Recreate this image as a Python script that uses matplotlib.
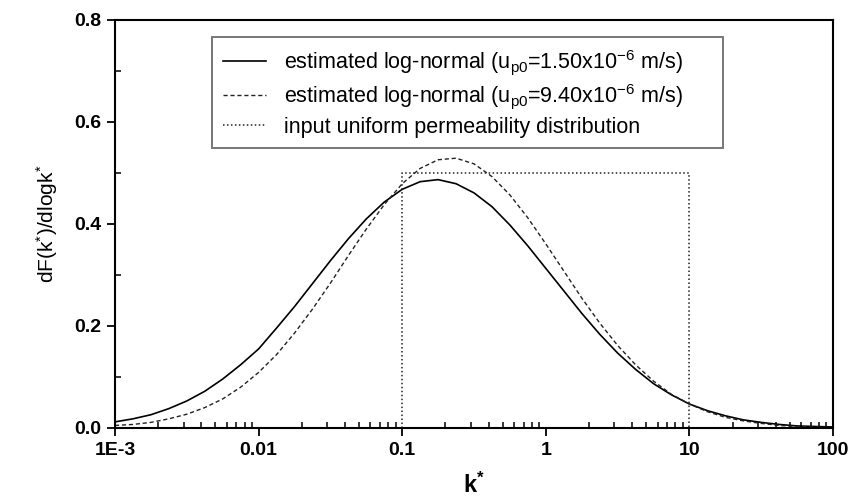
import matplotlib as mpl
mpl.use("Agg")
import matplotlib.pyplot as plt
from matplotlib.ticker import FixedLocator, LogLocator, MultipleLocator, NullFormatter

mpl.rcParams["font.family"] = ["Liberation Sans", "DejaVu Sans"]
mpl.rcParams["mathtext.default"] = "regular"

# curves (k*, dF/dlogk*), eight points per decade
k_vals = [1e-3, 1.334e-3, 1.778e-3, 2.371e-3, 3.162e-3, 4.217e-3, 5.623e-3, 7.499e-3,
          1e-2, 1.334e-2, 1.778e-2, 2.371e-2, 3.162e-2, 4.217e-2, 5.623e-2, 7.499e-2,
          0.1, 0.1334, 0.1778, 0.2371, 0.3162, 0.4217, 0.5623, 0.7499,
          1.0, 1.334, 1.778, 2.371, 3.162, 4.217, 5.623, 7.499,
          10.0, 13.34, 17.78, 23.71, 31.62, 42.17, 56.23, 74.99, 100.0]
est_150 = [0.012, 0.018, 0.026, 0.038, 0.053, 0.072, 0.096, 0.124,
           0.155, 0.196, 0.238, 0.283, 0.328, 0.371, 0.410, 0.443,
           0.468, 0.483, 0.487, 0.479, 0.461, 0.434, 0.398, 0.357,
           0.313, 0.269, 0.225, 0.184, 0.147, 0.115, 0.087, 0.065,
           0.047, 0.034, 0.024, 0.016, 0.011, 0.007, 0.004, 0.003, 0.002]
est_940 = [0.005, 0.007, 0.011, 0.018, 0.027, 0.040, 0.057, 0.080,
           0.109, 0.144, 0.186, 0.233, 0.284, 0.338, 0.390, 0.438,
           0.479, 0.509, 0.526, 0.529, 0.518, 0.493, 0.457, 0.412,
           0.361, 0.308, 0.255, 0.206, 0.162, 0.124, 0.092, 0.066,
           0.047, 0.032, 0.021, 0.014, 0.009, 0.005, 0.003, 0.002, 0.001]
uni_k = [0.1, 0.1, 10.0, 10.0]
uni_y = [0.0, 0.5, 0.5, 0.0]

x_ticks = [1e-3, 1e-2, 1e-1, 1, 10, 100]
x_labels = ["1E-3", "0.01", "0.1", "1", "10", "100"]

fig = plt.figure(figsize=(8.57, 4.97), dpi=100)
ax = fig.add_axes([115 / 857, 1 - 428 / 497, 718 / 857, 408 / 497])

ax.plot(k_vals, est_150, color="black", lw=1.2,
        label=r"estimated log-normal (u$_{p0}$=1.50x10$^{-6}$ m/s)")
ax.plot(k_vals, est_940, color="#222222", lw=1.0, dashes=(3, 2),
        label=r"estimated log-normal (u$_{p0}$=9.40x10$^{-6}$ m/s)")
ax.plot(uni_k, uni_y, color="#222222", lw=1.1, dashes=(1, 1.6),
        label="input uniform permeability distribution")

ax.set_xscale("log")
ax.set_xlim(1e-3, 100)
ax.set_ylim(0, 0.8)
ax.xaxis.set_major_locator(FixedLocator(x_ticks))
ax.set_xticklabels(x_labels)
ax.xaxis.set_minor_locator(LogLocator(base=10, subs=range(2, 10), numticks=20))
ax.xaxis.set_minor_formatter(NullFormatter())
ax.yaxis.set_major_locator(MultipleLocator(0.2))
ax.yaxis.set_minor_locator(MultipleLocator(0.1))
ax.yaxis.set_major_formatter(mpl.ticker.FormatStrFormatter("%.1f"))

ax.tick_params(which="major", direction="out", length=6, width=1.3, labelsize=14, pad=4)
ax.tick_params(which="minor", direction="in", length=4, width=1.1)
for lab in ax.get_xticklabels() + ax.get_yticklabels():
    lab.set_fontweight("bold")
for s in ax.spines.values():
    s.set_linewidth(1.5)

ax.set_xlabel(r"k$^{*}$", fontsize=17, fontweight="bold", labelpad=10)
ax.set_ylabel(r"dF(k$^{*}$)/dlogk$^{*}$", fontsize=15, labelpad=10)

leg = ax.legend(loc="upper left", bbox_to_anchor=(0.135, 0.958, 0.712, 0.0), mode="expand",
                fontsize=15.5, frameon=True, fancybox=False, handlelength=2.0,
                labelspacing=0.25, borderpad=0.5, handletextpad=0.85, borderaxespad=0)
leg.get_frame().set_edgecolor("#555555")
leg.get_frame().set_linewidth(1.4)

fig.savefig("out.png", dpi=100)
